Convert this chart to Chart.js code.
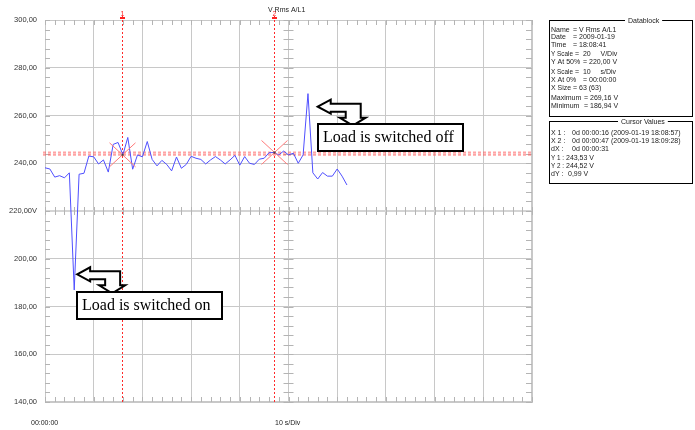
<!DOCTYPE html>
<html>
<head>
<meta charset="utf-8">
<script src="https://cdn.jsdelivr.net/npm/chart.js@4"></script>
<style>
  body { margin: 0; background: #fff; }
  canvas { display: block; }
</style>
</head>
<body>
<canvas id="scopeChart" width="695" height="430"></canvas>
<script>
// ---------------- DATA ----------------
// V Rms A/L1, one sample per second (X Size = 63)
const vrms = [
  238.1, 237.6, 234.2, 234.8, 233.9, 236.0, 186.94, 235.4, 235.8, 243.0,
  242.7, 239.7, 241.4, 236.3, 247.9, 248.7, 243.53, 250.8, 237.5, 243.5,
  242.7, 249.1, 241.6, 238.9, 241.2, 239.5, 236.8, 242.6, 237.9, 239.5,
  242.9, 242.1, 241.6, 239.7, 241.4, 242.8, 241.4, 239.7, 241.4, 243.3,
  239.2, 242.8, 240.0, 239.5, 241.7, 242.1, 244.4, 244.52, 243.5, 245.1,
  243.5, 244.2, 240.0, 243.5, 269.16, 236.0, 233.4, 236.1, 234.6, 234.6,
  237.6, 234.6, 230.9
];
const sampleSeconds = 1;

const yTicks = [140, 160, 180, 200, 220, 240, 260, 280, 300];
const cursorTimes = [16, 47];
const cursorValues = [243.53, 244.52];

const datablockLines = [
  ["Name", "= V Rms A/L1"],
  ["Date", "= 2009-01-19"],
  ["Time", "= 18:08:41"],
  ["Y Scale", "=  20     V/Div"],
  ["Y At 50%", "= 220,00 V"],
  ["X Scale", "=  10     s/Div"],
  ["X At 0%", "= 00:00:00"],
  ["X Size", "= 63 (63)"],
  ["Maximum", "= 269,16 V"],
  ["Minimum", "= 186,94 V"]
];
const cursorLines = [
  ["X 1 :", "0d 00:00:16 (2009-01-19 18:08:57)"],
  ["X 2 :", "0d 00:00:47 (2009-01-19 18:09:28)"],
  ["dX :", "0d 00:00:31"],
  ["Y 1 :", "243,53 V"],
  ["Y 2 :", "244,52 V"],
  ["dY :", "0,99 V"]
];

// notes anchored at the arrow tip (time, value)
const notes = [
  { text: "Load is switched on", t: 6.6, v: 193.5 },
  { text: "Load is switched off", t: 56.0, v: 263.7 }
];

const points = vrms.map((v, i) => ({ x: i * sampleSeconds, y: v }));

const smallFont = '7px "Liberation Sans", Arial, sans-serif';
const gridColor = "#c8c8c8";
const tickColor = "#b4b4b4";

// ---------------- HELPERS ----------------
function drawArrow(ctx, x, y) {
  const pts = [[0,0],[13,-7],[13,-3],[43,-3],[43,11],[48,11],[35,19],[22,11],[28,11],[28,5],[13,5],[13,7]];
  ctx.beginPath();
  pts.forEach((p, i) => i ? ctx.lineTo(x + p[0], y + p[1]) : ctx.moveTo(x + p[0], y + p[1]));
  ctx.closePath();
  ctx.fillStyle = "#fff";
  ctx.fill();
  ctx.lineWidth = 2;
  ctx.strokeStyle = "#000";
  ctx.lineJoin = "miter";
  ctx.stroke();
}

function drawPanel(ctx, title, titleX, top, bottom, rows, rowYs, valueX) {
  const left = 549, right = 692;
  ctx.strokeStyle = "#000";
  ctx.lineWidth = 1;
  ctx.strokeRect(left + 0.5, top + 0.5, right - left, bottom - top);
  ctx.font = smallFont;
  const w = ctx.measureText(title).width;
  ctx.fillStyle = "#fff";
  ctx.fillRect(titleX - 3, top - 4, w + 6, 8);
  ctx.fillStyle = "#222";
  ctx.textBaseline = "middle";
  ctx.textAlign = "left";
  ctx.fillText(title, titleX, top + 1);
  rows.forEach((r, i) => {
    ctx.fillText(r[0], 551, rowYs[i], valueX[i] - 553);
    ctx.fillText(r[1], valueX[i], rowYs[i], right - valueX[i] - 1);
  });
}

// cursor columns snapped to even pixels so thin red dots stay red
const cursorColumn = px => Math.round(px / 2) * 2 + 0.5;

// ---------------- EXTRAS PLUGIN ----------------
const scopeExtras = {
  id: "scopeExtras",
  beforeDatasetsDraw(chart) {
    const { ctx, chartArea: a, scales: { x, y } } = chart;
    ctx.save();
    // frame
    ctx.strokeStyle = gridColor;
    ctx.lineWidth = 1;
    ctx.strokeRect(a.left + 0.5, a.top + 0.5, a.right - a.left - 1, a.bottom - a.top - 1);

    // minor ticks
    ctx.strokeStyle = tickColor;
    ctx.beginPath();
    const xc = x.getPixelForValue(50), yc = y.getPixelForValue(220);
    for (let v = 140; v <= 300; v += 4) {
      const py = Math.round(y.getPixelForValue(v)) + 0.5;
      ctx.moveTo(a.left, py); ctx.lineTo(a.left + 5, py);
      ctx.moveTo(a.right - 6, py); ctx.lineTo(a.right, py);
      ctx.moveTo(xc - 5, py); ctx.lineTo(xc + 5, py);
    }
    for (let t = 0; t <= 100; t += 2) {
      const px = Math.round(x.getPixelForValue(t)) + 0.5;
      ctx.moveTo(px, a.top); ctx.lineTo(px, a.top + 5);
      ctx.moveTo(px, a.bottom - 5); ctx.lineTo(px, a.bottom);
      ctx.moveTo(px, yc - 4); ctx.lineTo(px, yc + 4);
    }
    ctx.stroke();

    // horizontal cursor band
    ctx.lineWidth = 2;
    ctx.setLineDash([3, 2]);
    cursorValues.forEach(v => {
      const py = y.getPixelForValue(v);
      ctx.strokeStyle = "rgba(255,90,90,0.55)";
      ctx.beginPath();
      ctx.moveTo(a.left - 2, py); ctx.lineTo(a.right, py);
      ctx.stroke();
    });

    // vertical cursors
    ctx.lineWidth = 1;
    ctx.setLineDash([2, 2]);
    cursorTimes.forEach(t => {
      const px = cursorColumn(x.getPixelForValue(t));
      ctx.strokeStyle = "#ff2a2a";
      ctx.beginPath();
      ctx.moveTo(px, a.top - 4); ctx.lineTo(px, a.bottom);
      ctx.stroke();
    });
    ctx.restore();
  },
  afterDraw(chart) {
    const { ctx, chartArea: a, scales: { x, y } } = chart;
    ctx.save();

    // cursor crosses and labels
    ctx.lineWidth = 1;
    cursorTimes.forEach((t, i) => {
      const px = cursorColumn(x.getPixelForValue(t)), py = y.getPixelForValue(cursorValues[i]);
      ctx.strokeStyle = "#ff7a7a";
      ctx.beginPath();
      ctx.moveTo(px - 13, py + 12); ctx.lineTo(px + 13, py - 12);
      ctx.moveTo(px - 13, py - 12); ctx.lineTo(px + 13, py + 12);
      ctx.stroke();
      ctx.fillStyle = "#444";
      ctx.fillRect(px - 1, py - 1, 2, 2);
      ctx.fillStyle = "#ff2020";
      ctx.font = smallFont;
      ctx.textAlign = "center";
      ctx.textBaseline = "middle";
      ctx.fillText(String(i + 1), px, a.top - 6);
      ctx.fillRect(Math.floor(px) - 2, a.top - 3, 5, 2);
    });

    // channel label
    ctx.fillStyle = "#222";
    ctx.font = smallFont;
    ctx.textAlign = "left";
    ctx.textBaseline = "middle";
    ctx.fillText("V Rms A/L1", 268, 10);

    // bottom labels
    ctx.fillText("00:00:00", 31, 423);
    ctx.fillText("10 s/Div", 275, 423);

    // annotations
    notes.forEach(n => {
      const tx = x.getPixelForValue(n.t), ty = y.getPixelForValue(n.v);
      drawArrow(ctx, tx, ty);
      const bx = Math.round(tx), by = Math.round(ty + 17.5);
      ctx.fillStyle = "#fff";
      ctx.fillRect(bx, by, 145, 27);
      ctx.strokeStyle = "#000";
      ctx.lineWidth = 2;
      ctx.strokeRect(bx, by, 145, 27);
      ctx.fillStyle = "#000";
      ctx.font = '16px "Liberation Serif", "Times New Roman", serif';
      ctx.textAlign = "left";
      ctx.textBaseline = "middle";
      ctx.fillText(n.text, bx + 5, by + 14);
    });

    // data blocks
    drawPanel(ctx, "Datablock", 628, 20, 116, datablockLines,
      [30, 37.5, 45, 54, 62, 72, 80, 88, 98, 106],
      [573, 573, 573, 575, 583, 575, 583, 573, 584, 584]);
    drawPanel(ctx, "Cursor Values", 621, 121, 183, cursorLines,
      [133, 141, 149, 158, 166, 174],
      [572, 572, 572, 566, 566, 568]);
    ctx.restore();
  }
};

// ---------------- CHART ----------------
const ctx = document.getElementById("scopeChart").getContext("2d");
new Chart(ctx, {
  type: "line",
  data: {
    datasets: [{
      label: "V Rms A/L1",
      data: points,
      borderColor: "#4f4fff",
      borderWidth: 1,
      pointRadius: 0,
      tension: 0,
      fill: false
    }]
  },
  options: {
    responsive: false,
    devicePixelRatio: 1,
    animation: false,
    layout: { padding: { top: 20, right: 163, bottom: 28, left: 0 } },
    plugins: { legend: { display: false }, tooltip: { enabled: false } },
    scales: {
      x: {
        type: "linear",
        min: 0,
        max: 100,
        afterFit: s => { s.height = 0; },
        ticks: { display: false, stepSize: 10 },
        grid: { color: gridColor, drawTicks: false },
        border: { color: gridColor }
      },
      y: {
        min: yTicks[0],
        max: yTicks[yTicks.length - 1],
        afterFit: s => { s.width = 45; },
        afterBuildTicks: s => { s.ticks = yTicks.map(v => ({ value: v })); },
        ticks: {
          padding: 8,
          color: "#333",
          font: { family: "Liberation Sans", size: 7.5 },
          callback: v => v === 220 ? "220,00V" : v.toFixed(2).replace(".", ",")
        },
        grid: {
          drawTicks: false,
          color: c => c.tick && c.tick.value === 220 ? "#d4d4d4" : gridColor,
          lineWidth: c => c.tick && c.tick.value === 220 ? 2 : 1
        },
        border: { color: gridColor }
      }
    }
  },
  plugins: [scopeExtras]
});
</script>
</body>
</html>
